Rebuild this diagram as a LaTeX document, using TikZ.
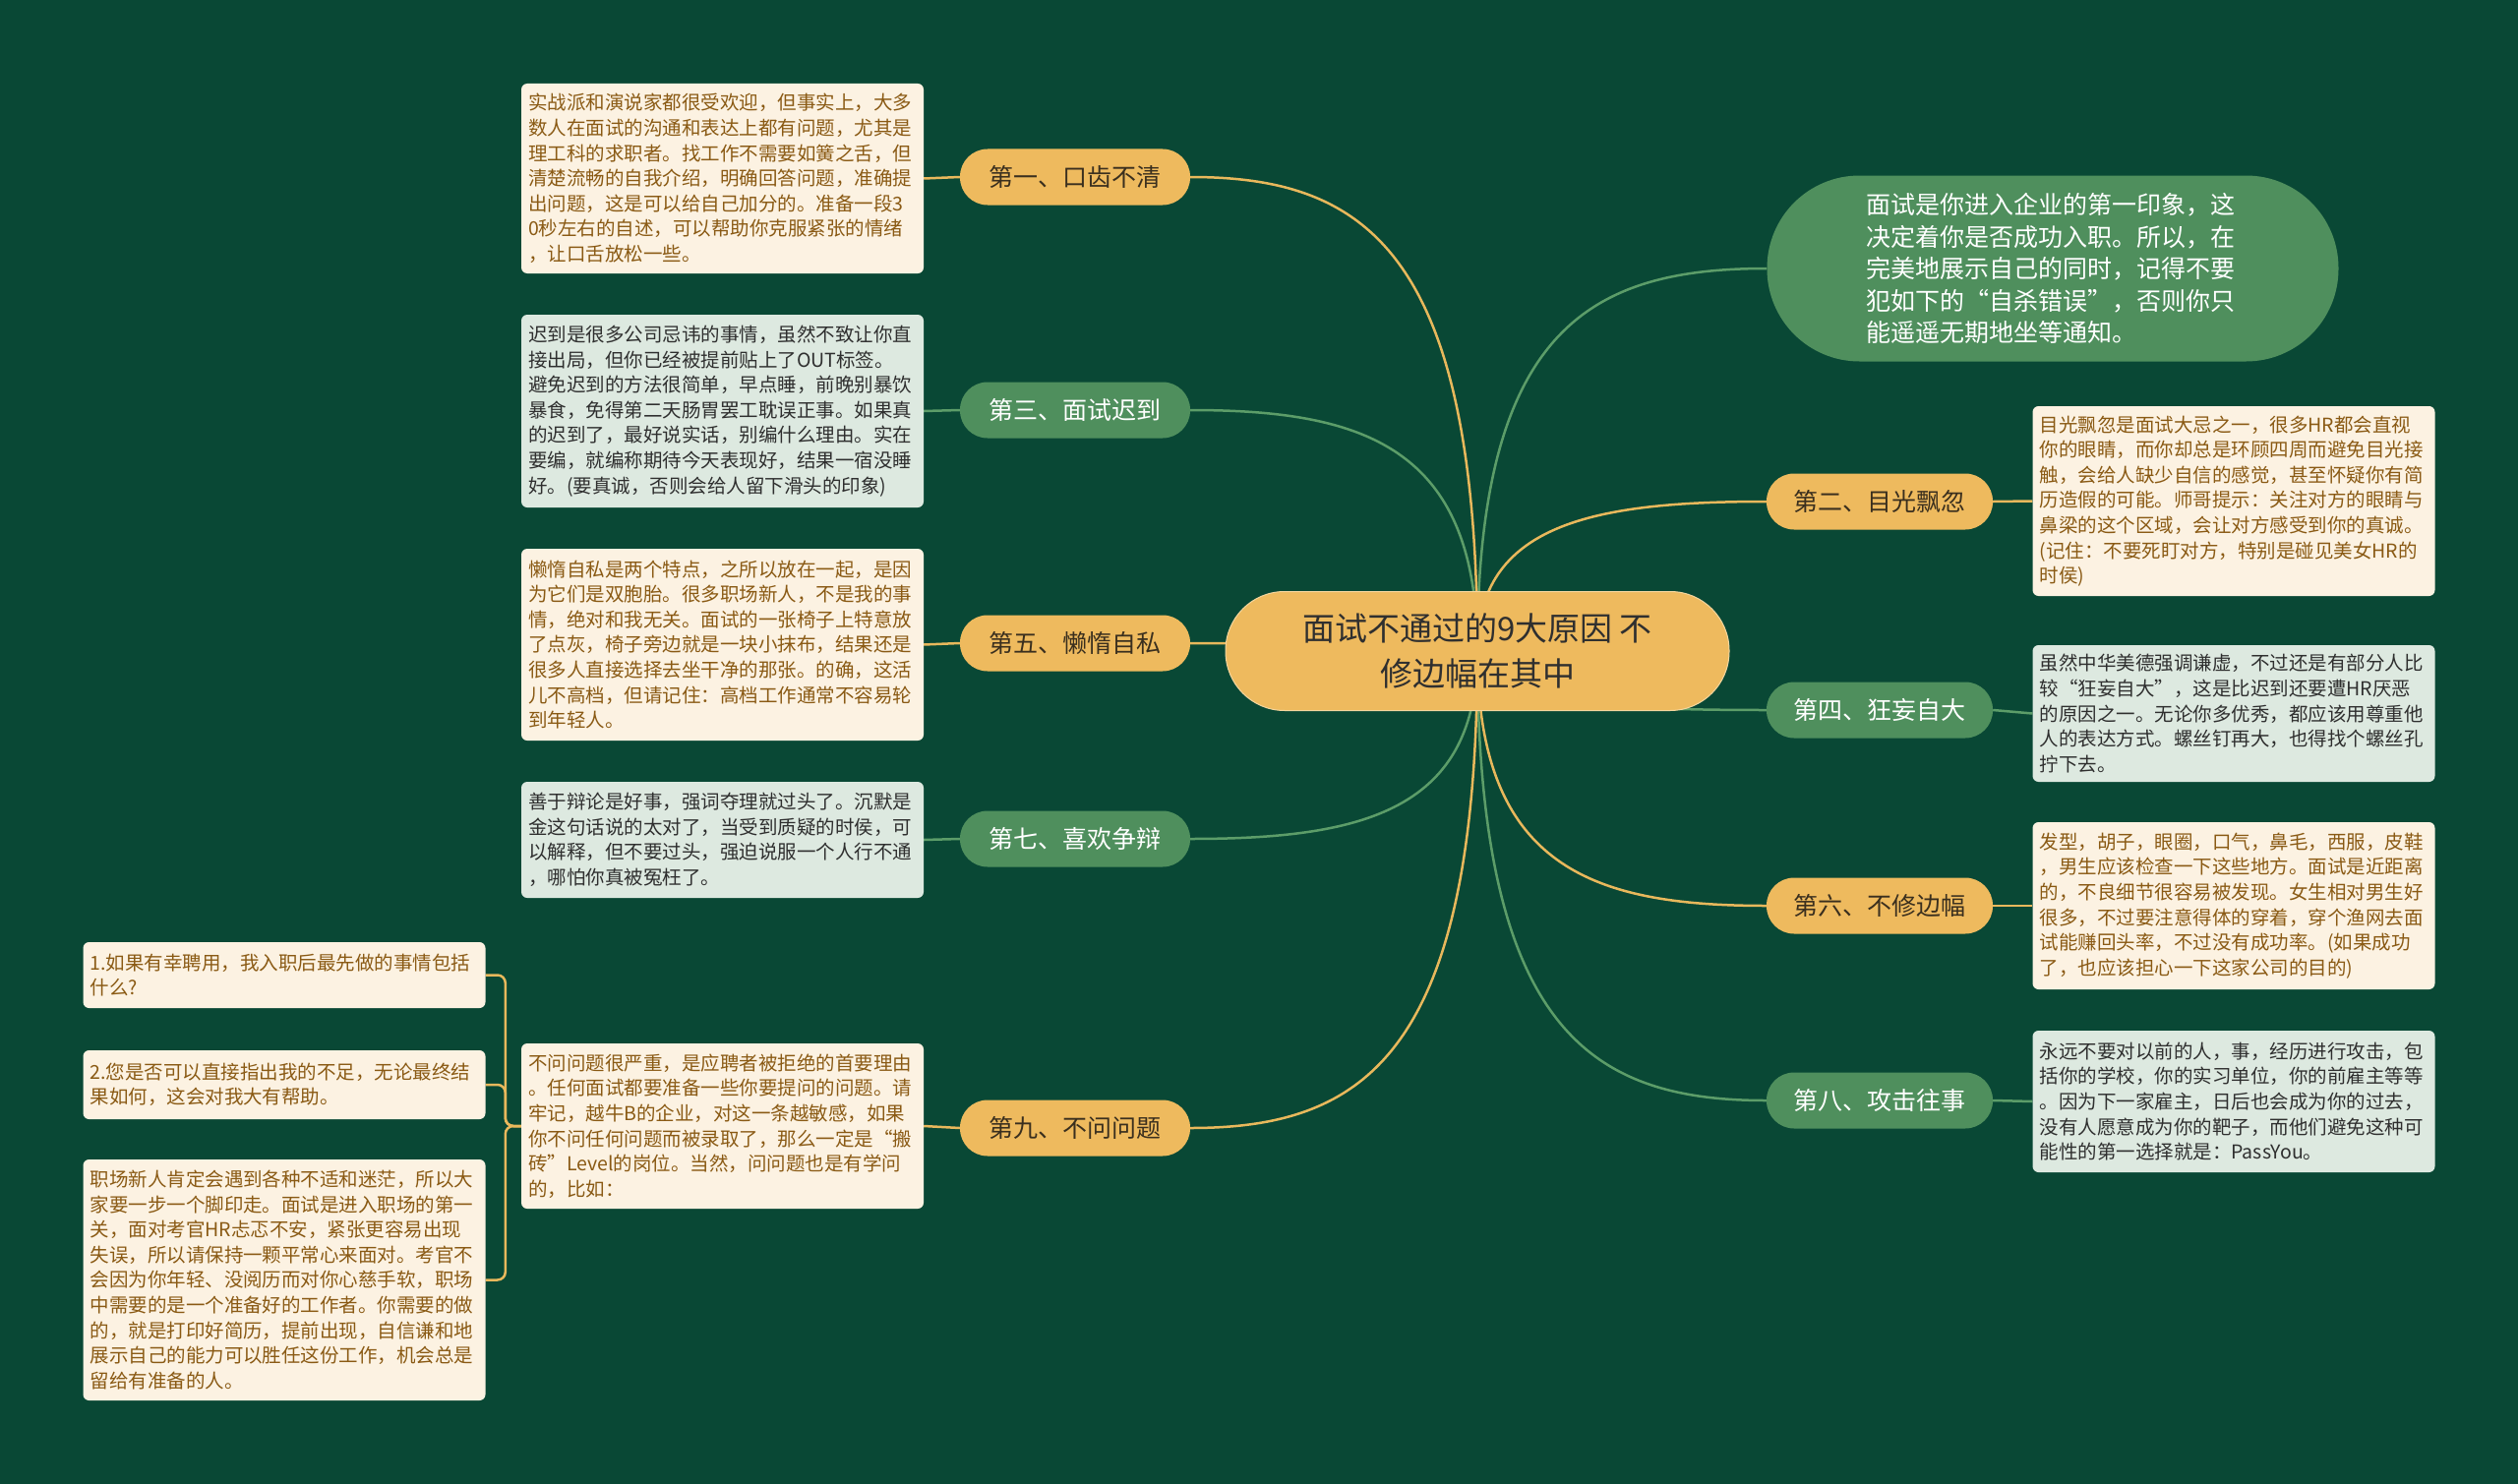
\documentclass[tikz,border=0pt]{standalone}
\usepackage{fontspec}
\setmainfont{Noto Sans CJK SC}
\usetikzlibrary{calc}
\definecolor{bg}{HTML}{094835}
\definecolor{orng}{HTML}{EEBA5E}
\definecolor{grn}{HTML}{4F8F5D}
\definecolor{cream}{HTML}{FCF2E2}
\definecolor{pale}{HTML}{DDE9E0}
\definecolor{brown}{HTML}{8A5A14}
\definecolor{dark}{HTML}{2F2F2F}
\definecolor{pilltext}{HTML}{3A2F1E}
\definecolor{oline}{HTML}{E8B85C}
\definecolor{gline}{HTML}{5C9D69}
\pgfdeclarelayer{back}
\pgfsetlayers{back,main}
\tikzset{
 pill/.style={rectangle, rounded corners=28pt, minimum height=57pt, inner sep=0pt, font=\fontsize{25}{30}\selectfont},
 lpill/.style={pill, minimum width=234pt},
 rpill/.style={pill, minimum width=230pt},
 opill/.style={fill=orng, text=pilltext},
 gpill/.style={fill=grn, text=white},
 tbox/.style={rectangle, rounded corners=6pt, align=left, text width=395pt, inner xsep=7pt, inner ysep=0pt, font=\fontsize{19.5}{25.6}\selectfont},
 cbox/.style={tbox, fill=cream, text=brown},
 pbox/.style={tbox, fill=pale, text=dark},
 olink/.style={draw=oline, line width=2.5pt},
 glink/.style={draw=gline, line width=2.5pt},
}
\newcommand\mmlink[2]{\draw[#1] (c.center) .. controls ($(c.center)!0.85!(c.center|-#2)$) and ($(#2)!0.6!(c.center|-#2)$) .. (#2);}
\begin{document}
\begin{tikzpicture}[x=1pt,y=-1pt]
\begin{pgfonlayer}{back}
\fill[bg] (0,0) rectangle (2560,1509);
\end{pgfonlayer}
\useasboundingbox (0,0) rectangle (2560,1509);

% center
\node[rectangle, rounded corners=60pt, fill=orng, draw=orng!60!white, line width=1pt, minimum width=512pt, minimum height=121pt, align=center, text=dark, font=\fontsize{33}{45.6}\selectfont, inner sep=0pt] (c) at (1502,662) {面试不通过的9大原因 不\\修边幅在其中};

% intro
\node[rectangle, rounded corners=94pt, fill=grn, minimum width=581pt, minimum height=189pt, text width=380pt, align=left, text=white, font=\fontsize{25}{32.5}\selectfont, inner sep=0pt] (intro) at (2087,273) {面试是你进入企业的第一印象，这\\决定着你是否成功入职。所以，在\\完美地展示自己的同时，记得不要\\犯如下的“自杀错误”，否则你只\\能遥遥无期地坐等通知。};

% left pills
\node[lpill, opill] (p1) at (1093,180) {第一、口齿不清};
\node[lpill, gpill] (p3) at (1093,417) {第三、面试迟到};
\node[lpill, opill] (p5) at (1093,654) {第五、懒惰自私};
\node[lpill, gpill] (p7) at (1093,853) {第七、喜欢争辩};
\node[lpill, opill] (p9) at (1093,1147) {第九、不问问题};
% right pills
\node[rpill, opill] (p2) at (1911,510) {第二、目光飘忽};
\node[rpill, gpill] (p4) at (1911,722) {第四、狂妄自大};
\node[rpill, opill] (p6) at (1911,921) {第六、不修边幅};
\node[rpill, gpill] (p8) at (1911,1119) {第八、攻击往事};

% left boxes
\node[cbox, minimum height=193pt] (b1) at (734.5,181.5) {实战派和演说家都很受欢迎，但事实上，大多\\数人在面试的沟通和表达上都有问题，尤其是\\理工科的求职者。找工作不需要如簧之舌，但\\清楚流畅的自我介绍，明确回答问题，准确提\\出问题，这是可以给自己加分的。准备一段3\\0秒左右的自述，可以帮助你克服紧张的情绪\\，让口舌放松一些。};
\node[pbox, minimum height=196pt] (b3) at (734.5,418) {迟到是很多公司忌讳的事情，虽然不致让你直\\接出局，但你已经被提前贴上了OUT标签。\\避免迟到的方法很简单，早点睡，前晚别暴饮\\暴食，免得第二天肠胃罢工耽误正事。如果真\\的迟到了，最好说实话，别编什么理由。实在\\要编，就编称期待今天表现好，结果一宿没睡\\好。(要真诚，否则会给人留下滑头的印象)};
\node[cbox, minimum height=195pt] (b5) at (734.5,655.5) {懒惰自私是两个特点，之所以放在一起，是因\\为它们是双胞胎。很多职场新人，不是我的事\\情，绝对和我无关。面试的一张椅子上特意放\\了点灰，椅子旁边就是一块小抹布，结果还是\\很多人直接选择去坐干净的那张。的确，这活\\儿不高档，但请记住：高档工作通常不容易轮\\到年轻人。};
\node[pbox, minimum height=118pt] (b7) at (734.5,854) {善于辩论是好事，强词夺理就过头了。沉默是\\金这句话说的太对了，当受到质疑的时侯，可\\以解释，但不要过头，强迫说服一个人行不通\\，哪怕你真被冤枉了。};
\node[cbox, minimum height=168pt] (b9) at (734.5,1145) {不问问题很严重，是应聘者被拒绝的首要理由\\。任何面试都要准备一些你要提问的问题。请\\牢记，越牛B的企业，对这一条越敏感，如果\\你不问任何问题而被录取了，那么一定是“搬\\砖”Level的岗位。当然，问问题也是有学问\\的，比如：};

% sub boxes
\node[cbox, minimum height=67pt] (s1) at (289,991.5) {1.如果有幸聘用，我入职后最先做的事情包括\\什么?};
\node[cbox, minimum height=70pt] (s2) at (289,1103) {2.您是否可以直接指出我的不足，无论最终结\\果如何，这会对我大有帮助。};
\node[cbox, minimum height=245pt] (s3) at (289,1301.5) {职场新人肯定会遇到各种不适和迷茫，所以大\\家要一步一个脚印走。面试是进入职场的第一\\关，面对考官HR忐忑不安，紧张更容易出现\\失误，所以请保持一颗平常心来面对。考官不\\会因为你年轻、没阅历而对你心慈手软，职场\\中需要的是一个准备好的工作者。你需要的做\\的，就是打印好简历，提前出现，自信谦和地\\展示自己的能力可以胜任这份工作，机会总是\\留给有准备的人。};

% right boxes
\node[cbox, minimum height=193pt] (b2) at (2271,509.5) {目光飘忽是面试大忌之一，很多HR都会直视\\你的眼睛，而你却总是环顾四周而避免目光接\\触，会给人缺少自信的感觉，甚至怀疑你有简\\历造假的可能。师哥提示：关注对方的眼睛与\\鼻梁的这个区域，会让对方感受到你的真诚。\\(记住：不要死盯对方，特别是碰见美女HR的\\时侯)};
\node[pbox, minimum height=139pt] (b4) at (2271,725.5) {虽然中华美德强调谦虚，不过还是有部分人比\\较“狂妄自大”，这是比迟到还要遭HR厌恶\\的原因之一。无论你多优秀，都应该用尊重他\\人的表达方式。螺丝钉再大，也得找个螺丝孔\\拧下去。};
\node[cbox, minimum height=170pt] (b6) at (2271,921) {发型，胡子，眼圈，口气，鼻毛，西服，皮鞋\\，男生应该检查一下这些地方。面试是近距离\\的，不良细节很容易被发现。女生相对男生好\\很多，不过要注意得体的穿着，穿个渔网去面\\试能赚回头率，不过没有成功率。(如果成功\\了，也应该担心一下这家公司的目的)};
\node[pbox, minimum height=144pt] (b8) at (2271,1120) {永远不要对以前的人，事，经历进行攻击，包\\括你的学校，你的实习单位，你的前雇主等等\\。因为下一家雇主，日后也会成为你的过去，\\没有人愿意成为你的靶子，而他们避免这种可\\能性的第一选择就是：PassYou。};

\begin{pgfonlayer}{back}
\mmlink{glink}{intro.west}
\mmlink{olink}{p2.west}
\mmlink{glink}{p4.west}
\mmlink{olink}{p6.west}
\mmlink{glink}{p8.west}
\mmlink{olink}{p1.east}
\mmlink{glink}{p3.east}
\mmlink{olink}{p5.east}
\mmlink{glink}{p7.east}
\mmlink{olink}{p9.east}
\draw[olink] (p1.west) -- (b1.east);
\draw[glink] (p3.west) -- (b3.east);
\draw[olink] (p5.west) -- (b5.east);
\draw[glink] (p7.west) -- (b7.east);
\draw[olink] (p9.west) -- (b9.east);
\draw[olink] (p2.east) -- (b2.west);
\draw[glink] (p4.east) -- (b4.west);
\draw[olink] (p6.east) -- (b6.west);
\draw[glink] (p8.east) -- (b8.west);
\draw[olink, rounded corners=8pt] (b9.west) -- ++(-16,0) |- (s1.east);
\draw[olink, rounded corners=8pt] (b9.west) -- ++(-16,0) |- (s2.east);
\draw[olink, rounded corners=8pt] (b9.west) -- ++(-16,0) |- (s3.east);
\end{pgfonlayer}
\end{tikzpicture}
\end{document}
